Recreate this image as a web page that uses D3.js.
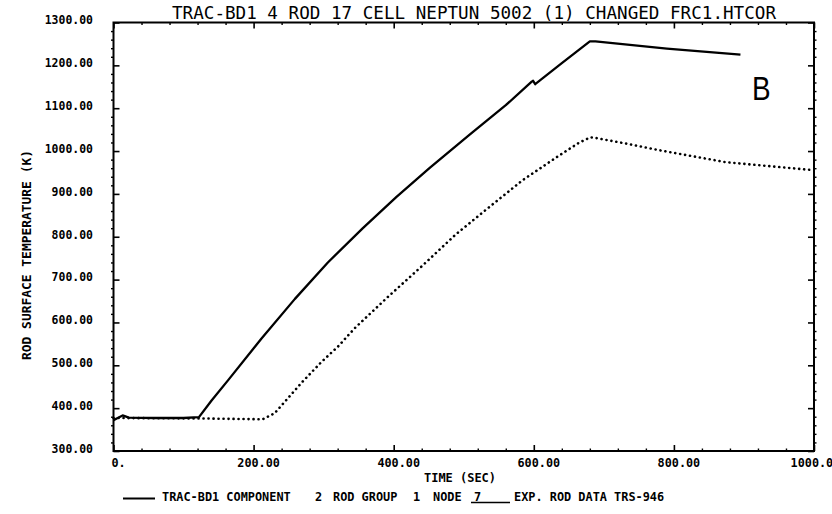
<!DOCTYPE html>
<html><head><meta charset="utf-8">
<script src="https://cdn.jsdelivr.net/npm/d3@7"></script>
<style>body{margin:0;background:#fff}svg{display:block}</style>
</head><body><svg id="c" width="832" height="514"></svg>
<script>
const titleText = "TRAC-BD1 4 ROD 17 CELL NEPTUN 5002 (1) CHANGED FRC1.HTCOR";
const yTitleText = "ROD SURFACE TEMPERATURE   (K)";
const xTitleText = "TIME (SEC)";
const panelLetter = "B";
const xTicks = [0, 200, 400, 600, 800, 1000];
const xTickLabels = ["0.", "200.00", "400.00", "600.00", "800.00", "1000.00"];
const yTicks = [300, 400, 500, 600, 700, 800, 900, 1000, 1100, 1200, 1300];
const yTickLabels = ["300.00", "400.00", "500.00", "600.00", "700.00", "800.00", "900.00", "1000.00", "1100.00", "1200.00", "1300.00"];
// TRAC-BD1 computed rod surface temperature (solid)
const calcTime = [0, 6, 13, 22, 60, 100, 122, 140, 164, 211, 259, 306, 356, 404, 451, 508, 560, 597, 599, 602, 640, 680, 688, 790, 895];
const calcTemp = [372, 377, 383, 378, 377, 377, 379, 418, 466, 562, 655, 740, 820, 893, 960, 1038, 1107, 1162, 1164, 1156, 1205, 1256, 1256, 1239, 1225];
// Experimental rod data TRS-946 (dotted)
const expTime = [0, 122, 213, 230, 250, 270, 297, 320, 344, 392, 442, 489, 537, 584, 632, 665, 681, 690, 730, 779, 874, 995];
const expTemp = [377, 376, 374, 388, 425, 462, 508, 543, 586, 660, 734, 806, 870, 932, 985, 1020, 1032, 1030, 1018, 1002, 974, 956];
const legendLabels = ["TRAC-BD1 COMPONENT", "2", "ROD GROUP", "1", "NODE", "7", "EXP. ROD DATA TRS-946"];

const svg = d3.select("#c");
const L = 113.5, R = 814, T = 22.5, B = 451;
const x = d3.scaleLinear().domain([0, 1000]).range([L, R]);
const y = d3.scaleLinear().domain([300, 1300]).range([B, T]);
const FONT = "'DejaVu Sans Mono', 'Liberation Mono', monospace";

const minorX = d3.range(0, 1001, 40).filter(v => !xTicks.includes(v));
const minorY = d3.range(300, 1301, 20).filter(v => !yTicks.includes(v));
function addAxis(axis, tx, ty, w) {
  const g = svg.append("g").attr("transform", `translate(${tx},${ty})`).call(axis);
  g.select(".domain").remove();
  g.selectAll("text").remove();
  g.selectAll("line").attr("stroke", "#000").attr("stroke-width", w);
  return g;
}
addAxis(d3.axisBottom(x).tickValues(xTicks).tickSize(-6), 0, B, 1.6);
addAxis(d3.axisTop(x).tickValues(xTicks).tickSize(-6), 0, T, 1.6);
addAxis(d3.axisLeft(y).tickValues(yTicks).tickSize(-6), L, 0, 1.6);
addAxis(d3.axisRight(y).tickValues(yTicks).tickSize(-6), R, 0, 1.6);
addAxis(d3.axisBottom(x).tickValues(minorX).tickSize(-2.5), 0, B, 1.4);
addAxis(d3.axisTop(x).tickValues(minorX).tickSize(-2.5), 0, T, 1.4);
addAxis(d3.axisLeft(y).tickValues(minorY).tickSize(2.5), L, 0, 1.4);
addAxis(d3.axisRight(y).tickValues(minorY).tickSize(2.5), R, 0, 1.4);

svg.append("rect").attr("x", L).attr("y", T).attr("width", R - L).attr("height", B - T)
  .attr("fill", "none").attr("stroke", "#000").attr("stroke-width", 2);

const calc = calcTime.map((t, i) => [t, calcTemp[i]]);
const exp = expTime.map((t, i) => [t, expTemp[i]]);
const line = d3.line().x(d => x(d[0])).y(d => y(d[1]));
svg.append("path").attr("d", line(exp)).attr("fill", "none").attr("stroke", "#000")
  .attr("stroke-width", 2.6).attr("stroke-linecap", "round").attr("stroke-dasharray", "0.1 4.9");
svg.append("path").attr("d", line(calc)).attr("fill", "none").attr("stroke", "#000")
  .attr("stroke-width", 2.3).attr("stroke-linejoin", "round");

function txt(s, x0, y0, cw, opts = {}) {
  return svg.append("text").attr("x", x0).attr("y", y0).text(s)
    .attr("font-family", FONT).attr("font-size", opts.size || 12)
    .attr("font-weight", opts.weight || "bold").attr("fill", "#000")
    .attr("textLength", s.length * cw).attr("lengthAdjust", "spacingAndGlyphs");
}

txt(titleText, 172, 18.5, 604 / titleText.length, {size: 18, weight: "normal"});

const ycw = 6.9;
yTicks.forEach((v, i) => {
  const s = yTickLabels[i];
  txt(s, 93 - s.length * ycw, y(v) + 1.8, ycw, {size: 12});
});
const xcw = 7.1;
xTicks.forEach((v, i) => {
  const s = xTickLabels[i];
  const intLen = s.indexOf(".");
  txt(s, x(v) + 5 - intLen * xcw, 467, xcw, {size: 12});
});

txt(xTitleText, 460 - 36, 481.5, 7.2, {size: 12});

svg.append("text").attr("transform", "translate(31,360) rotate(-90)")
  .text(yTitleText).attr("font-family", FONT).attr("font-size", 12).attr("font-weight", "bold")
  .attr("textLength", 210).attr("lengthAdjust", "spacingAndGlyphs");

svg.append("text").attr("transform", "translate(752,100) scale(0.82,1)").text(panelLetter)
  .attr("font-family", "'Liberation Sans', Arial, sans-serif").attr("font-size", 34).attr("fill", "#000");

const ly = 501;
svg.append("line").attr("x1", 123).attr("x2", 155).attr("y1", ly - 2.5).attr("y2", ly - 2.5)
  .attr("stroke", "#000").attr("stroke-width", 2);
const lx = [162, 315, 333, 413, 433, 474, 514];
legendLabels.forEach((s, i) => txt(s, lx[i], ly, 7.15, {size: 12}));
svg.append("line").attr("x1", 471).attr("x2", 510).attr("y1", ly + 1.5).attr("y2", ly + 1.5)
  .attr("stroke", "#000").attr("stroke-width", 1.6);
</script></body></html>
